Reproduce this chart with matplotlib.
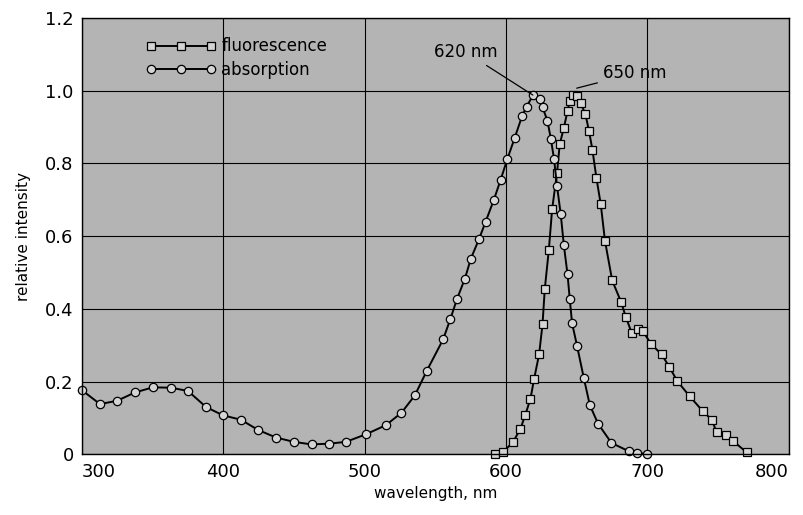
import matplotlib
matplotlib.use("Agg")
import matplotlib.pyplot as plt

# absorption spectrum (circles)
abs_nm = [300, 312.7, 324.8, 337.5, 350.2, 363, 375, 387.7, 399.7, 412.4, 424.5,
          437.2, 449.9, 462.4, 474.7, 486.7, 501, 515, 526, 535.5, 544, 555.5,
          560.7, 565.4, 570.9, 575.1, 580.8, 585.5, 591.4, 596.1, 601, 606.2,
          611.4, 614.5, 619.2, 624, 625.8, 629.3, 631.7, 634, 636.1, 638.7,
          640.9, 643.5, 645.1, 646.7, 650.3, 655, 659.3, 665.1, 674.6, 687,
          693, 700]
abs_val = [0.176, 0.138, 0.147, 0.17, 0.184, 0.183, 0.174, 0.13, 0.107, 0.095, 0.067,
           0.046, 0.034, 0.027, 0.029, 0.034, 0.055, 0.08, 0.114, 0.162, 0.23, 0.316,
           0.373, 0.428, 0.483, 0.538, 0.591, 0.639, 0.700, 0.754, 0.813, 0.871,
           0.931, 0.956, 0.988, 0.978, 0.955, 0.917, 0.868, 0.811, 0.737, 0.66,
           0.575, 0.495, 0.426, 0.361, 0.297, 0.21, 0.135, 0.084, 0.031, 0.008,
           0.004, 0.0]

# fluorescence spectrum (squares)
fl_nm = [592, 598, 605, 610.2, 613.7, 617.3, 619.8, 623.4, 625.8, 627.4, 630.3,
         632.6, 636.1, 638, 640.9, 643.5, 645.1, 647.5, 650.5, 652.9, 656.2,
         658.7, 661.1, 663.9, 667, 670, 675.1, 681.5, 684.7, 689, 693.4, 697,
         702.4, 710, 715.4, 721.2, 729.8, 739.3, 745.5, 749, 755.4, 760.4, 770.3]
fl_val = [0, 0.006, 0.034, 0.07, 0.109, 0.153, 0.206, 0.275, 0.357, 0.454, 0.563,
          0.674, 0.775, 0.853, 0.898, 0.944, 0.972, 0.988, 0.985, 0.965, 0.935,
          0.889, 0.838, 0.761, 0.688, 0.587, 0.478, 0.418, 0.378, 0.333, 0.344, 0.338,
          0.304, 0.275, 0.241, 0.201, 0.16, 0.118, 0.095, 0.061, 0.052, 0.037, 0.005]

x_ticks = [300, 400, 500, 600, 700, 800]
y_ticks = [0, 0.2, 0.4, 0.6, 0.8, 1.0, 1.2]
y_labels = ["0", "0.2", "0.4", "0.6", "0.8", "1.0", "1.2"]

fig = plt.figure(figsize=(8.04, 5.15), dpi=100)
ax = fig.add_axes([0.102, 0.118, 0.879, 0.847])
ax.set_facecolor("#b4b4b4")

ax.plot(fl_nm, fl_val, color="black", lw=1.4, marker="s", ms=6,
        mfc="#d4d4d4", mec="black", mew=0.9, clip_on=False, label="fluorescence")
ax.plot(abs_nm, abs_val, color="black", lw=1.4, marker="o", ms=6,
        mfc="#d4d4d4", mec="black", mew=0.9, clip_on=False, label="absorption")

ax.set_xlim(300, 800)
ax.set_ylim(0, 1.2)
ax.set_xticks(x_ticks)
ax.set_yticks(y_ticks)
ax.set_yticklabels(y_labels)
ax.tick_params(length=0, labelsize=13, pad=6)
xt = ax.get_xticklabels()
xt[0].set_ha("left")
xt[-1].set_ha("right")
ax.grid(True, color="black", lw=0.8)
ax.set_axisbelow(True)
for s in ax.spines.values():
    s.set_linewidth(1.0)

ax.set_xlabel("wavelength, nm", fontsize=11, labelpad=4)
ax.set_ylabel("relative intensity", fontsize=11, labelpad=10)

# peak annotations
ax.annotate("620 nm", xy=(619, 0.988), xytext=(594, 1.106), fontsize=12,
            ha="right", va="center",
            arrowprops=dict(arrowstyle="-", color="black", lw=0.9, shrinkA=2, shrinkB=0))
ax.annotate("650 nm", xy=(650, 1.007), xytext=(668.5, 1.048), fontsize=12,
            ha="left", va="center",
            arrowprops=dict(arrowstyle="-", color="black", lw=0.9, shrinkA=2, shrinkB=0))

leg = ax.legend(loc="upper left", bbox_to_anchor=(0.07, 0.99), frameon=False,
                numpoints=3, handlelength=4.2, handletextpad=0.3, fontsize=12,
                labelspacing=0.35)

fig.savefig("out.png", dpi=100)
